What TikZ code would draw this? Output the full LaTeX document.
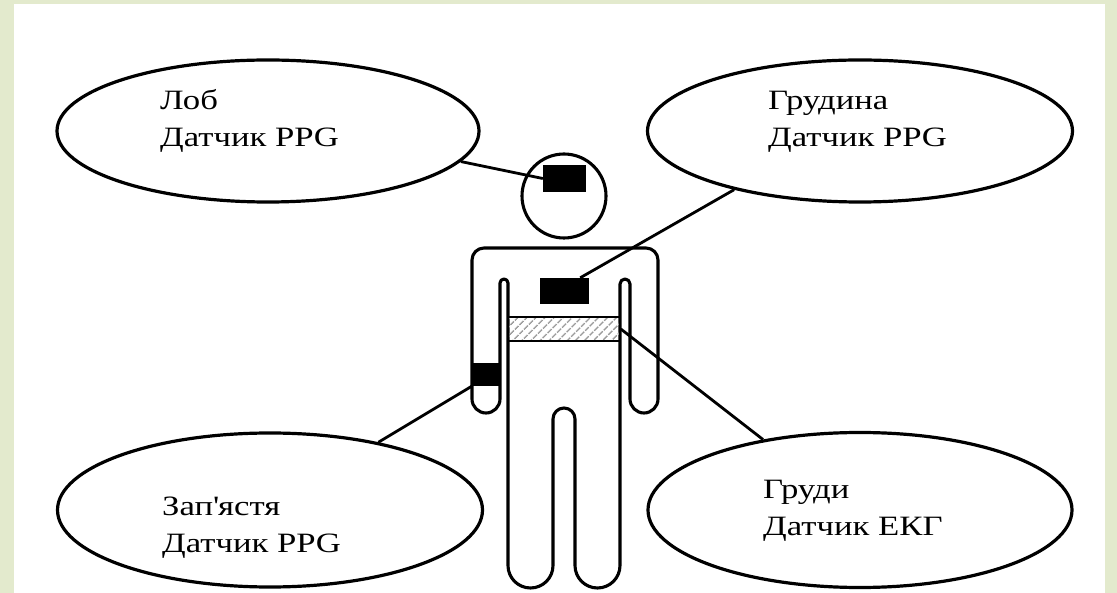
\documentclass[tikz,border=0pt]{standalone}
\usepackage{fontspec}
\newfontfamily\lblfont[FakeStretch=1.24]{Liberation Serif}
\usetikzlibrary{shapes.geometric,patterns.meta}
\definecolor{framegreen}{HTML}{E3EACD}
\begin{document}
\begin{tikzpicture}[x=1pt,y=-1pt,
  bubble/.style={ellipse,draw,line width=3.2pt,inner sep=0pt,fill=white},
  lbltext/.style={font=\lblfont\fontsize{28}{37}\selectfont,align=left,inner sep=0pt,anchor=base west},
  link/.style={line width=2.8pt},
  sensor/.style={rectangle,fill=black,inner sep=0pt},
  outline/.style={line width=3.1pt,line join=round}
]
% frame and page
\useasboundingbox (0,0) rectangle (1117,593);
\fill[framegreen] (0,0) rectangle (1117,593);
\fill[white] (14,4) rectangle (1105,593);

% body outline: shoulders, arms, slots, legs
\draw[outline,fill=white] (472,399) -- (472,260)
  arc[start angle=180,end angle=270,radius=12] -- (646,248)
  arc[start angle=270,end angle=360,radius=12] -- (658,399)
  arc[start angle=0,end angle=180,radius=14] -- (630,284)
  arc[start angle=0,end angle=-180,radius=5] -- (620,565.5)
  arc[start angle=0,end angle=180,radius=22.5] -- (575,419)
  arc[start angle=0,end angle=-180,radius=11] -- (553,565.5)
  arc[start angle=0,end angle=180,radius=22.5] -- (508,283)
  arc[start angle=0,end angle=-180,radius=4] -- (500,399)
  arc[start angle=0,end angle=180,radius=14] -- cycle;

% head
\node[circle,draw,line width=3.1pt,inner sep=0pt,minimum size=84pt] (head) at (564,196) {};

% ECG belt
\node[rectangle,draw,line width=2.8pt,inner sep=0pt,minimum width=112pt,minimum height=24pt,
      pattern={Lines[angle=45,distance=6.5pt,line width=1.6pt]},pattern color=gray!70!black!60] (belt) at (564,329) {};

% sensors
\node[sensor,minimum width=43pt,minimum height=27pt] (headsens) at (564.5,178.5) {};
\node[sensor,minimum width=49pt,minimum height=26pt] (chestsens) at (564.5,291) {};
\node[sensor,minimum width=28pt,minimum height=23pt] (wristsens) at (486,374.5) {};

% callout ellipses
\node[bubble,minimum width=422pt,minimum height=142pt] (lob) at (268,131) {};
\node[bubble,minimum width=425pt,minimum height=142pt] (grud) at (860,131) {};
\node[bubble,minimum width=425pt,minimum height=154pt] (wrist) at (270,510) {};
\node[bubble,minimum width=424pt,minimum height=155pt] (chest) at (860,510) {};

% labels (anchored at the baseline of their last line)
\node[lbltext] (loblbl) at (160,147) {Лоб\\Датчик PPG};
\node[lbltext] (grudlbl) at (768,147) {Грудина\\Датчик PPG};
\node[lbltext] (wristlbl) at (162,552) {Зап\textquotesingle ястя\\Датчик PPG};
\node[lbltext] (chestlbl) at (763,535) {Груди\\Датчик ЕКГ};

% connectors
\draw[link] (lob.-9) -- (headsens.west);
\draw[link] (grud.205) -- ([xshift=-9pt]chestsens.north east);
\draw[link] (wrist.32) -- (wristsens.south west);
\draw[link] (belt.east) -- (chest.144);
\end{tikzpicture}
\end{document}
